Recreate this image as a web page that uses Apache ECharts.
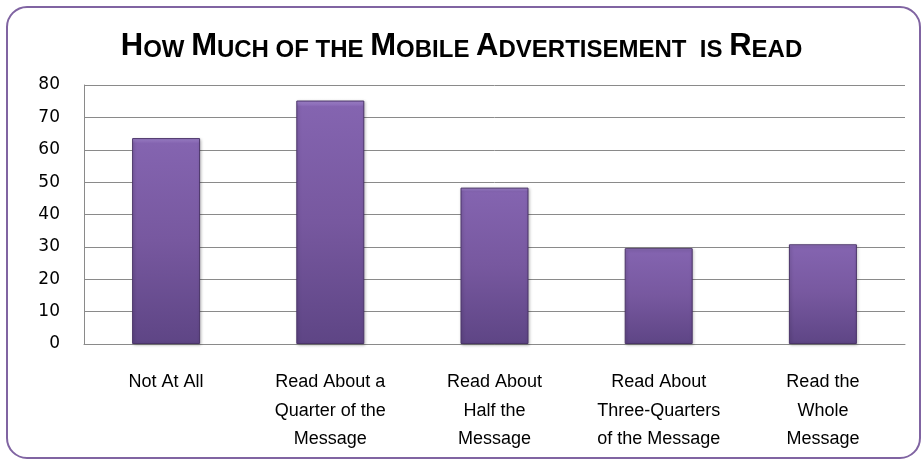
<!DOCTYPE html>
<html>
<head>
<meta charset="utf-8">
<script src="https://cdn.jsdelivr.net/npm/echarts@6/dist/echarts.min.js"></script>
<style>
  html, body { margin: 0; padding: 0; background: #fff; }
  #chart { width: 923px; height: 460px; }
</style>
</head>
<body>
<div id="chart"></div>
<script>
// Share of respondents by how much of a mobile ad they read
const categories = [
  'Not At All',
  'Read About a\nQuarter of the\nMessage',
  'Read About\nHalf the\nMessage',
  'Read About\nThree-Quarters\nof the Message',
  'Read the\nWhole\nMessage'
];
const values = [63.6, 75.2, 48.3, 29.6, 30.8];
const yTicks = [0, 10, 20, 30, 40, 50, 60, 70, 80];

const chart = echarts.init(document.getElementById('chart'));

const titleFont = '"Liberation Sans", Arial, sans-serif';

chart.setOption({
  backgroundColor: '#ffffff',
  animation: false,
  title: {
    left: 'center',
    top: 26,
    text: '{b|H}{s|OW }{b|M}{s|UCH OF THE }{b|M}{s|OBILE }{b|A}{s|DVERTISEMENT  IS }{b|R}{s|EAD}',
    textStyle: {
      rich: {
        b: { fontFamily: titleFont, fontWeight: 'bold', fontSize: 31, color: '#000', verticalAlign: 'bottom' },
        s: { fontFamily: titleFont, fontWeight: 'bold', fontSize: 24, color: '#000', verticalAlign: 'bottom' }
      }
    }
  },
  graphic: [{
    type: 'rect',
    shape: { x: 7, y: 7, width: 913, height: 451, r: 20 },
    style: { fill: 'none', stroke: '#8064A2', lineWidth: 2 },
    silent: true,
    z: 10
  }],
  grid: { left: 84, right: 18, top: 85, bottom: 116, containLabel: false },
  xAxis: {
    type: 'category',
    data: categories,
    axisLine: { show: true, lineStyle: { color: '#8a8a8a', width: 1 } },
    axisTick: { show: false },
    axisLabel: {
      interval: 0,
      margin: 24,
      color: '#000',
      fontFamily: '"Liberation Sans", Arial, sans-serif',
      fontSize: 18,
      lineHeight: 28.5,
      align: 'center'
    }
  },
  yAxis: {
    type: 'value',
    min: yTicks[0],
    max: yTicks[yTicks.length - 1],
    interval: yTicks[1] - yTicks[0],
    axisLine: { show: true, lineStyle: { color: '#8a8a8a', width: 1 } },
    axisTick: { show: false },
    splitLine: { show: true, lineStyle: { color: '#8a8a8a', width: 1 } },
    axisLabel: {
      margin: 24,
      color: '#000',
      fontFamily: '"DejaVu Sans", sans-serif',
      fontSize: 17
    }
  },
  series: [{
    type: 'bar',
    data: values,
    barWidth: 68,
    itemStyle: {
      color: new echarts.graphic.LinearGradient(0, 0, 0, 1, [
        { offset: 0, color: '#A88AD6' },
        { offset: 0.025, color: '#8464B0' },
        { offset: 0.5, color: '#77589F' },
        { offset: 1, color: '#5E4585' }
      ]),
      borderColor: '#4A3468',
      borderWidth: 1,
      shadowColor: 'rgba(0,0,0,0.25)',
      shadowBlur: 3,
      shadowOffsetX: 1,
      shadowOffsetY: 1
    }
  }]
});
</script>
</body>
</html>
